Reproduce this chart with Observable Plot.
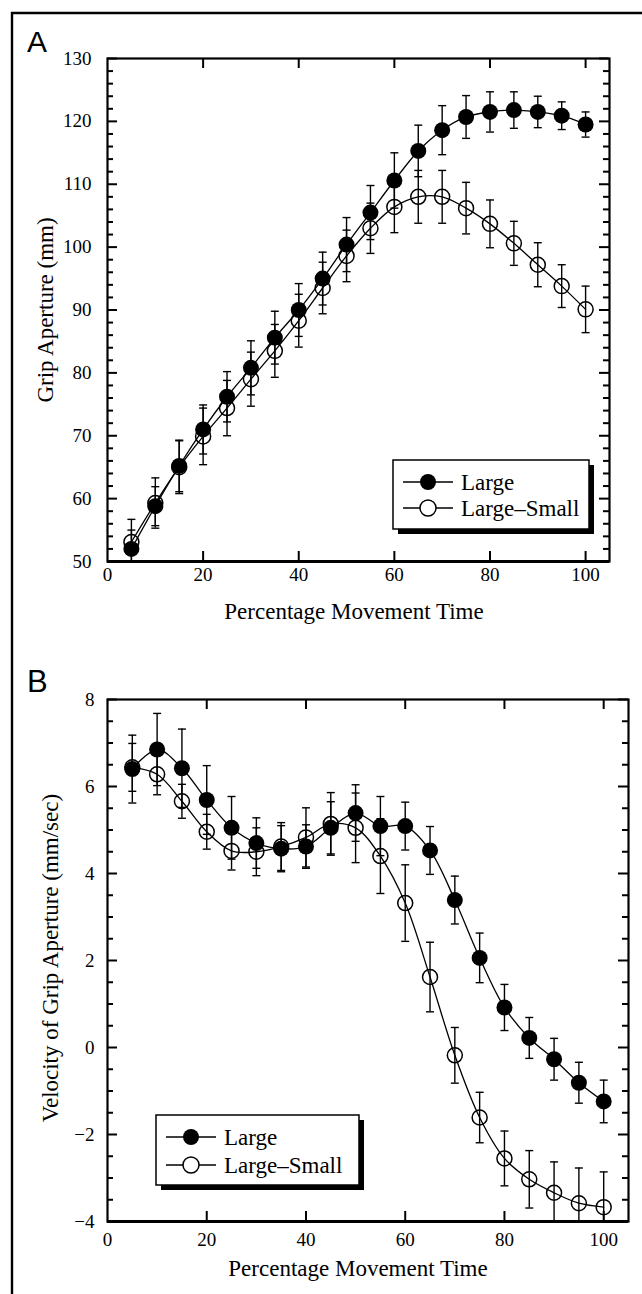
<!DOCTYPE html>
<html>
<head>
<meta charset="utf-8">
<script src="https://cdn.jsdelivr.net/npm/d3@7"></script>
<script src="https://cdn.jsdelivr.net/npm/@observablehq/plot@0.6"></script>
<style>
  html, body { margin: 0; padding: 0; background: #fff; }
  #page { position: relative; width: 642px; height: 1294px; overflow: hidden; background: #fff; }
  .panel { position: absolute; left: 0; }
  #overlay { position: absolute; left: 0; top: 0; pointer-events: none; }
  svg text { font-family: "Liberation Serif", "DejaVu Serif", serif; }
  svg text.sans { font-family: "Liberation Sans", "DejaVu Sans", sans-serif; }
</style>
</head>
<body>
<div id="page">
  <div id="panelA" class="panel" style="top:0px"></div>
  <div id="panelB" class="panel" style="top:640px"></div>
</div>
<script>
// ---------------- DATA ----------------
const pct = [5, 10, 15, 20, 25, 30, 35, 40, 45, 50, 55, 60, 65, 70, 75, 80, 85, 90, 95, 100];

// Panel A: Grip aperture (mm)
const apertureLarge      = [52.0, 58.8, 65.2, 71.0, 76.2, 80.8, 85.6, 90.0, 95.0, 100.4, 105.5, 110.6, 115.3, 118.6, 120.7, 121.5, 121.8, 121.5, 120.9, 119.5];
const apertureLargeSD    = [3.0, 3.1, 4.1, 3.9, 4.0, 4.3, 4.2, 4.2, 4.2, 4.3, 4.3, 4.4, 4.1, 3.9, 3.4, 3.2, 2.9, 2.5, 2.2, 2.0];
const apertureLS         = [53.1, 59.3, 65.0, 69.9, 74.4, 79.0, 83.5, 88.3, 93.5, 98.6, 103.0, 106.4, 108.0, 108.0, 106.2, 103.7, 100.6, 97.2, 93.8, 90.1];
const apertureLSSD       = [3.6, 4.0, 4.2, 4.5, 4.4, 4.3, 4.2, 4.2, 4.1, 4.1, 4.0, 4.1, 4.2, 4.2, 4.1, 3.8, 3.5, 3.5, 3.4, 3.7];

// Panel B: Velocity of grip aperture (mm/sec)
const velocityLarge      = [6.40, 6.85, 6.42, 5.69, 5.05, 4.70, 4.57, 4.62, 5.05, 5.39, 5.09, 5.09, 4.53, 3.39, 2.06, 0.92, 0.22, -0.27, -0.81, -1.24];
const velocityLargeSD    = [0.78, 0.83, 0.90, 0.79, 0.72, 0.58, 0.53, 0.50, 0.60, 0.65, 0.68, 0.55, 0.55, 0.55, 0.57, 0.53, 0.47, 0.48, 0.47, 0.49];
const velocityLS         = [6.44, 6.28, 5.66, 4.96, 4.52, 4.50, 4.62, 4.83, 5.14, 5.05, 4.40, 3.32, 1.62, -0.18, -1.61, -2.55, -3.03, -3.34, -3.58, -3.67];
const velocityLSSD       = [0.55, 0.47, 0.39, 0.40, 0.44, 0.55, 0.55, 0.68, 0.72, 0.80, 0.86, 0.88, 0.80, 0.64, 0.58, 0.63, 0.66, 0.71, 0.81, 0.81];

// Ticks
const xTicks = [0, 20, 40, 60, 80, 100];
const xMajorTickMarks = [20, 40, 60, 80, 100];
const aYTicks = [50, 60, 70, 80, 90, 100, 110, 120, 130];
const aYMinor = [52,54,56,58,62,64,66,68,72,74,76,78,82,84,86,88,92,94,96,98,102,104,106,108,112,114,116,118,122,124,126,128];
const bYTicks = [-4, -2, 0, 2, 4, 6, 8];
const bYMinor = [-3.5,-3,-2.5,-1.5,-1,-0.5,0.5,1,1.5,2.5,3,3.5,4.5,5,5.5,6.5,7,7.5];

const seriesNames = ["Large", "Large\u2013Small"];

// ---------------- HELPERS ----------------
const SERIF = "Liberation Serif, DejaVu Serif, serif";
const X_DOMAIN = [0, 105];
const rows = (ys, sds) => pct.map((x, i) => ({x, y: ys[i], lo: ys[i] - sds[i], hi: ys[i] + sds[i]}));

const capSymbol = { draw(ctx) { ctx.moveTo(-4, 0); ctx.lineTo(4, 0); } };

function errorMarks(data) {
  return [
    Plot.ruleX(data, {x: "x", y1: "lo", y2: "hi", stroke: "#000", strokeWidth: 1.4, clip: true}),
    Plot.dot(data, {x: "x", y: "hi", symbol: capSymbol, stroke: "#000", strokeWidth: 1.4, fill: "none", clip: true}),
    Plot.dot(data, {x: "x", y: "lo", symbol: capSymbol, stroke: "#000", strokeWidth: 1.4, fill: "none", clip: true})
  ];
}

function makePanel(cfg) {
  const filled = rows(cfg.large, cfg.largeSD);
  const open = rows(cfg.ls, cfg.lsSD);
  const [y0, y1] = cfg.yDomain;
  const [x0, x1] = X_DOMAIN;
  // convert a tick length in pixels into data units of each scale
  const frameW = 642 - 107 - cfg.mr;
  const frameH = cfg.height - cfg.mt - cfg.mb;
  const ux = (px) => px * (x1 - x0) / frameW;
  const uy = (px) => px * (y1 - y0) / frameH;
  const tk = {stroke: "#000", strokeWidth: 2};
  const yTickRules = (ticks, len) => [
    Plot.ruleY(ticks, {...tk, y: d => d, x1: x0, x2: x0 + ux(len)}),
    Plot.ruleY(ticks, {...tk, y: d => d, x1: x1 - ux(len), x2: x1})
  ];
  const xTickRules = (ticks, len) => [
    Plot.ruleX(ticks, {...tk, x: d => d, y1: y0, y2: y0 + uy(len)}),
    Plot.ruleX(ticks, {...tk, x: d => d, y1: y1 - uy(len), y2: y1})
  ];
  return Plot.plot({
    width: 642,
    height: cfg.height,
    marginTop: cfg.mt, marginBottom: cfg.mb, marginLeft: 107, marginRight: cfg.mr,
    x: {domain: X_DOMAIN},
    y: {domain: cfg.yDomain},
    style: {fontFamily: SERIF, fontSize: "19px", color: "#000", background: "transparent", overflow: "visible"},
    marks: [
      Plot.axisY(cfg.yTicks, {anchor: "left", tickSize: 0, tickPadding: cfg.yPad, label: null, fontSize: 19}),
      Plot.axisX(xTicks, {anchor: "bottom", tickSize: 0, tickPadding: cfg.xPad, label: null, fontSize: 19}),
      ...yTickRules(cfg.yTicks, 10),
      ...yTickRules(cfg.yMinor, 6),
      ...xTickRules(xMajorTickMarks, 10),
      ...errorMarks(open),
      Plot.line(open, {x: "x", y: "y", curve: "catmull-rom", stroke: "#000", strokeWidth: 1.3}),
      Plot.dot(open, {x: "x", y: "y", r: 7.5, stroke: "#000", strokeWidth: 1.5, fill: "none"}),
      ...errorMarks(filled),
      Plot.line(filled, {x: "x", y: "y", curve: "catmull-rom", stroke: "#000", strokeWidth: 1.3}),
      Plot.dot(filled, {x: "x", y: "y", r: 8, fill: "#000", stroke: "none"}),
      Plot.frame({stroke: "#000", strokeWidth: 2.2}),
      Plot.ruleY([y0], {stroke: "#000", strokeWidth: 3})
    ]
  });
}

document.getElementById("panelA").append(makePanel({
  height: 640, mt: 58, mb: 79, mr: 33,
  yDomain: [50, 130], yTicks: aYTicks, yMinor: aYMinor, yPad: 16, xPad: 6,
  large: apertureLarge, largeSD: apertureLargeSD, ls: apertureLS, lsSD: apertureLSSD
}));

document.getElementById("panelB").append(makePanel({
  height: 654, mt: 59, mb: 73, mr: 14,
  yDomain: [-4, 8], yTicks: bYTicks, yMinor: bYMinor, yPad: 13, xPad: 11,
  large: velocityLarge, largeSD: velocityLargeSD, ls: velocityLS, lsSD: velocityLSSD
}));

const svg = d3.select("#page").append("svg")
  .attr("id", "overlay").attr("width", 642).attr("height", 1294);

svg.append("path").attr("d", "M12,1294V13H642").attr("fill", "none").attr("stroke", "#000").attr("stroke-width", 2.4);

svg.append("text").attr("class", "sans").attr("x", 27).attr("y", 52).attr("font-size", 30).text("A");
svg.append("text").attr("class", "sans").attr("x", 27).attr("y", 692).attr("font-size", 31).text("B");

function xTitle(cx, by) {
  svg.append("text").attr("x", cx).attr("y", by).attr("text-anchor", "middle")
    .attr("font-size", 23).text("Percentage Movement Time");
}
function yTitle(cx, cy, label) {
  svg.append("text").attr("transform", `translate(${cx},${cy}) rotate(-90)`)
    .attr("text-anchor", "middle").attr("dominant-baseline", "central")
    .attr("font-size", 23).text(label);
}
xTitle(354, 619);
xTitle(358, 1276);
yTitle(45, 310, "Grip Aperture (mm)");
yTitle(50, 958, "Velocity of Grip Aperture (mm/sec)");

function legend(x, y, w, h, rowDy) {
  const g = svg.append("g").attr("transform", `translate(${x},${y})`);
  g.append("rect").attr("x", 5).attr("y", 5).attr("width", w).attr("height", h).attr("fill", "#000");
  g.append("rect").attr("x", 0).attr("y", 0).attr("width", w).attr("height", h).attr("fill", "#fff").attr("stroke", "#000").attr("stroke-width", 1.5);
  seriesNames.forEach((name, i) => {
    const ry = rowDy[i];
    g.append("line").attr("x1", 10).attr("x2", 60).attr("y1", ry).attr("y2", ry).attr("stroke", "#000").attr("stroke-width", 1.4);
    g.append("circle").attr("cx", 35).attr("cy", ry).attr("r", 8)
      .attr("fill", i === 0 ? "#000" : "#fff").attr("stroke", "#000").attr("stroke-width", i === 0 ? 0 : 1.5);
    g.append("text").attr("x", 68).attr("y", ry + 7.5).attr("font-size", 23).text(name);
  });
}
legend(393, 460, 196, 69, [22, 48]);
legend(156, 1115, 203, 70, [22, 50]);
</script>
</body>
</html>
